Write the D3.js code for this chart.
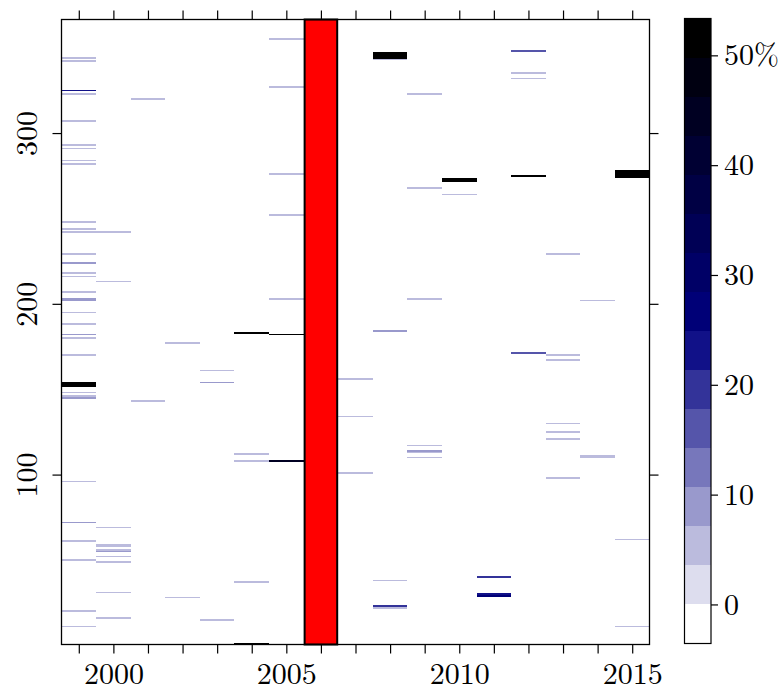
<!DOCTYPE html>
<html>
<head>
<meta charset="utf-8">
<script src="https://cdn.jsdelivr.net/npm/d3@7"></script>
<style>
  html, body { margin: 0; padding: 0; background: #fff; }
  svg { display: block; }
</style>
</head>
<body>
<svg id="chart" width="782" height="690"></svg>
<script>
// ---------------- data ----------------
const years = [1999, 2000, 2001, 2002, 2003, 2004, 2005, 2006, 2007, 2008, 2009, 2010, 2011, 2012, 2013, 2014, 2015];
const missingYears = [2006];
const xTickLabels = [2000, 2005, 2010, 2015];
const yTicks = [100, 200, 300];
const colorbarTicks = [0, 10, 20, 30, 40, 50];
const binStep = 3.557;   // width of one colour class, in %
const nBins = 16;
// [year, day of year, value in %]
const cells = [
  [1999,344,5],[1999,342,5],[1999,325,23],[1999,323,5],[1999,307,5],[1999,293,5],[1999,291,5],
  [1999,284,5],[1999,282,5],[1999,248,5],[1999,244,5],[1999,242,5],[1999,229,5],[1999,224,9],
  [1999,218,5],[1999,216,5],[1999,207,5],[1999,203,9],[1999,202,9],[1999,195,5],[1999,188,5],
  [1999,182,9],[1999,180,5],[1999,170,5],[1999,154,52],[1999,153,52],[1999,152,52],[1999,148,5],
  [1999,146,5],[1999,145,9],[1999,96,5],[1999,72,10],[1999,61,5],[1999,50,5],[1999,20,5],[1999,11,5],
  [2000,242,5],[2000,213,5],[2000,69,5],[2000,59,5],[2000,58,5],[2000,56,5],[2000,55,9],
  [2000,52,5],[2000,49,5],[2000,31,5],[2000,16,5],
  [2001,320,5],[2001,143,5],
  [2002,177,5],[2002,28,5],
  [2003,161,5],[2003,154,8],[2003,15,5],
  [2004,183,52],[2004,112,5],[2004,108,5],[2004,37,5],[2004,1,52],
  [2005,355,5],[2005,327,5],[2005,276,5],[2005,252,5],[2005,203,5],[2005,182,52],[2005,108,46],
  [2007,156,5],[2007,134,5],[2007,101,5],
  [2008,347,50],[2008,346,50],[2008,345,50],[2008,344,50],[2008,343,5],[2008,184,10],
  [2008,38,5],[2008,23,19],[2008,22,5],
  [2009,323,5],[2009,268,5],[2009,203,5],[2009,117,5],[2009,114,10],[2009,113,5],[2009,110,5],
  [2010,273,52],[2010,272,52],[2010,264,5],
  [2011,40,19],[2011,30,23],[2011,29,27],
  [2012,348,16],[2012,335,5],[2012,332,5],[2012,275,52],[2012,171,16],
  [2013,229,5],[2013,170,5],[2013,167,5],[2013,130,5],[2013,125,5],[2013,121,5],[2013,98,5],
  [2014,202,5],[2014,111,5],[2014,110,5],
  [2015,278,52],[2015,277,52],[2015,276,52],[2015,275,52],[2015,274,52],[2015,62,5],[2015,11,5]
];

// ---------------- layout ----------------
const plot = { left: 61.5, right: 649.5, top: 19.5, bottom: 644.5 };
const cbar = { left: 684.5, right: 711, top: 18.5, bottom: 643.5 };
const FONT = 30;
const FAMILY = '"Latin Modern Roman"';

const svg = d3.select("#chart");

const x = d3.scaleLinear().domain([years[0] - 0.5, years[years.length - 1] + 0.5]).range([plot.left, plot.right]);
const y = d3.scaleLinear().domain([0.5, 366.5]).range([plot.bottom, plot.top]);

// palette white -> navy -> black, nBins classes
const whiteNavy = d3.interpolateRgb("#ffffff", "#000080");
const navyBlack = d3.interpolateRgb("#000080", "#000000");
const palette = d3.range(nBins).map(i => {
  const t = i / (nBins - 1);
  return t <= 0.5 ? whiteNavy(t * 2) : navyBlack((t - 0.5) * 2);
});
const breaks = d3.range(1, nBins).map(i => -binStep + i * binStep);
const color = d3.scaleThreshold().domain(breaks).range(palette);

// ---------------- cells ----------------
svg.append("g")
  .attr("shape-rendering", "crispEdges")
  .selectAll("rect")
  .data(cells)
  .join("rect")
  .attr("x", d => x(d[0] - 0.5))
  .attr("width", d => x(d[0] + 0.5) - x(d[0] - 0.5))
  .attr("y", d => y(d[1] + 0.5))
  .attr("height", d => y(d[1] - 0.5) - y(d[1] + 0.5))
  .attr("fill", d => color(d[2]));

// missing year column
svg.append("g")
  .selectAll("rect")
  .data(missingYears)
  .join("rect")
  .attr("x", d => x(d - 0.5) + 1)
  .attr("width", d => x(d + 0.5) - x(d - 0.5) - 2)
  .attr("y", plot.top)
  .attr("height", plot.bottom - plot.top)
  .attr("fill", "#ff0000")
  .attr("stroke", "#000")
  .attr("stroke-width", 2);

// ---------------- axes ----------------
function styleAxis(g) {
  g.attr("font-family", null).attr("font-size", null);
  g.select(".domain").remove();
  g.selectAll(".tick line").attr("stroke", "#000").attr("stroke-width", 1.2);
  g.selectAll("text")
    .style("font-family", FAMILY)
    .style("font-size", FONT + "px")
    .attr("fill", "#000");
}

const gBottom = svg.append("g")
  .attr("transform", `translate(0,${plot.bottom})`)
  .call(d3.axisBottom(x).tickValues(years).tickSize(9)
    .tickFormat(d => xTickLabels.includes(d) ? String(d) : ""))
  .call(styleAxis);
gBottom.selectAll("text").attr("y", 39.5).attr("dy", 0);

svg.append("g")
  .attr("transform", `translate(0,${plot.top})`)
  .call(d3.axisTop(x).tickValues(years).tickSize(9).tickFormat(() => ""))
  .call(styleAxis);

const gLeft = svg.append("g")
  .attr("transform", `translate(${plot.left},0)`)
  .call(d3.axisLeft(y).tickValues(yTicks).tickSize(9).tickFormat(d => String(d)))
  .call(styleAxis);
gLeft.selectAll("text")
  .attr("x", null).attr("dy", 0)
  .attr("text-anchor", "middle")
  .attr("transform", "translate(-24.5,0) rotate(-90)");

svg.append("g")
  .attr("transform", `translate(${plot.right},0)`)
  .call(d3.axisRight(y).tickValues(yTicks).tickSize(9).tickFormat(() => ""))
  .call(styleAxis);

// frame
svg.append("rect")
  .attr("x", plot.left).attr("y", plot.top)
  .attr("width", plot.right - plot.left).attr("height", plot.bottom - plot.top)
  .attr("fill", "none").attr("stroke", "#000").attr("stroke-width", 1.3);

// ---------------- colour bar ----------------
const cb = d3.scaleLinear().domain([-binStep, (nBins - 1) * binStep]).range([cbar.bottom, cbar.top]);
const binLows = [-binStep].concat(breaks);
svg.append("g")
  .attr("shape-rendering", "crispEdges")
  .selectAll("rect")
  .data(binLows)
  .join("rect")
  .attr("x", cbar.left)
  .attr("width", cbar.right - cbar.left)
  .attr("y", d => cb(d + binStep))
  .attr("height", d => cb(d) - cb(d + binStep))
  .attr("fill", (d, i) => palette[i]);

svg.append("rect")
  .attr("x", cbar.left).attr("y", cbar.top)
  .attr("width", cbar.right - cbar.left).attr("height", cbar.bottom - cbar.top)
  .attr("fill", "none").attr("stroke", "#000").attr("stroke-width", 1.2);

svg.append("g")
  .attr("transform", `translate(${cbar.right},0)`)
  .call(d3.axisRight(cb).tickValues(colorbarTicks).tickSize(7).tickPadding(6)
    .tickFormat(d => d === 50 ? "50%" : String(d)))
  .call(styleAxis);
</script>
</body>
</html>
